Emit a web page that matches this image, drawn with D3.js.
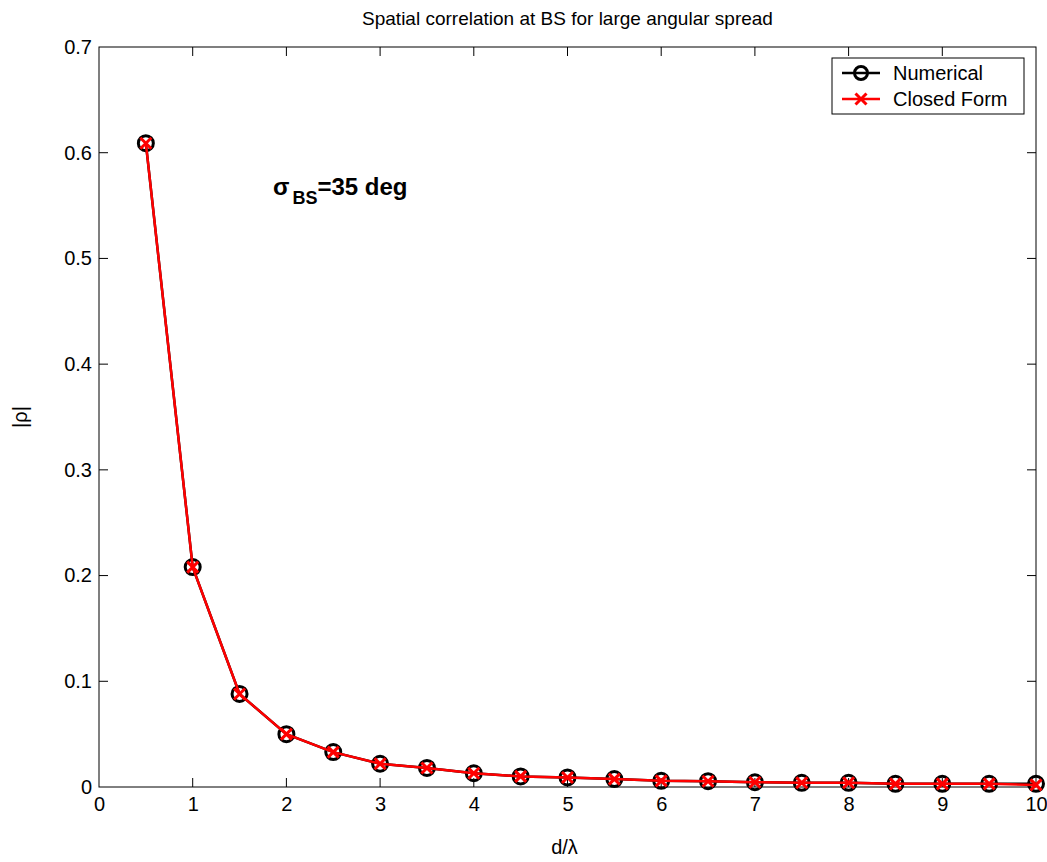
<!DOCTYPE html>
<html>
<head>
<meta charset="utf-8">
<script src="https://cdn.jsdelivr.net/npm/d3@7"></script>
<style>
  body { margin: 0; background: #fff; }
  text { font-family: "Liberation Sans", Arial, sans-serif; fill: #000; }
</style>
</head>
<body>
<div id="plot"></div>
<script>
// values
const dLambda = [0.5, 1, 1.5, 2, 2.5, 3, 3.5, 4, 4.5, 5, 5.5, 6, 6.5, 7, 7.5, 8, 8.5, 9, 9.5, 10];
const numerical = [0.609, 0.208, 0.088, 0.050, 0.033, 0.022, 0.018, 0.013, 0.010, 0.009,
                   0.0075, 0.0058, 0.0055, 0.0045, 0.004, 0.004, 0.003, 0.003, 0.003, 0.003];
const closedForm = [0.609, 0.208, 0.088, 0.050, 0.033, 0.022, 0.018, 0.013, 0.010, 0.009,
                    0.0075, 0.0058, 0.0055, 0.0045, 0.004, 0.004, 0.003, 0.003, 0.003, 0.002];
const xTicks = [0, 1, 2, 3, 4, 5, 6, 7, 8, 9, 10];
const yTicks = [0, 0.1, 0.2, 0.3, 0.4, 0.5, 0.6, 0.7];

const W = 1047, H = 862;
const m = {left: 99, right: 11, top: 47, bottom: 75};

const x = d3.scaleLinear().domain([0, 10]).range([m.left, W - m.right]);
const y = d3.scaleLinear().domain([0, 0.7]).range([H - m.bottom, m.top]);

const svg = d3.select("#plot").append("svg")
    .attr("width", W).attr("height", H);

// box
svg.append("rect")
    .attr("x", m.left).attr("y", m.top)
    .attr("width", x(10) - x(0)).attr("height", y(0) - y(0.7))
    .attr("fill", "none").attr("stroke", "#000").attr("stroke-width", 1);

const tickLen = 9;
const fontFam = "Liberation Sans, Arial, sans-serif";
// labels via d3 axes, ticks drawn inside the box below
const ax = d3.axisBottom(x).tickValues(xTicks).tickSize(0).tickPadding(10).tickFormat(d3.format("d"));
const gx = svg.append("g").attr("transform", `translate(0,${y(0)})`).call(ax);
gx.select(".domain").remove();
gx.selectAll("text").attr("font-size", 20).style("font-family", fontFam);

const ay = d3.axisLeft(y).tickValues(yTicks).tickSize(0).tickPadding(7).tickFormat(d => d === 0 ? "0" : d3.format(".1f")(d));
const gy = svg.append("g").attr("transform", `translate(${x(0)},0)`).call(ay);
gy.select(".domain").remove();
gy.selectAll("text").attr("font-size", 20).style("font-family", fontFam);

const ticks = svg.append("g").attr("stroke", "#000").attr("stroke-width", 1);
xTicks.slice(1, -1).forEach(t => {
  ticks.append("line").attr("x1", x(t)).attr("x2", x(t)).attr("y1", y(0)).attr("y2", y(0) - tickLen);
  ticks.append("line").attr("x1", x(t)).attr("x2", x(t)).attr("y1", y(0.7)).attr("y2", y(0.7) + tickLen);
});
yTicks.slice(1, -1).forEach(t => {
  ticks.append("line").attr("x1", x(0)).attr("x2", x(0) + tickLen).attr("y1", y(t)).attr("y2", y(t));
  ticks.append("line").attr("x1", x(10)).attr("x2", x(10) - tickLen).attr("y1", y(t)).attr("y2", y(t));
});

// title and labels
svg.append("text").attr("x", (x(0) + x(10)) / 2).attr("y", 25)
    .attr("text-anchor", "middle").attr("font-size", 19)
    .text("Spatial correlation at BS for large angular spread");
svg.append("text").attr("x", (x(0) + x(10)) / 2 - 3).attr("y", 854)
    .attr("text-anchor", "middle").attr("font-size", 20).text("d/λ");
svg.append("text").attr("transform", `translate(27,${(y(0) + y(0.7)) / 2}) rotate(-90)`)
    .attr("text-anchor", "middle").attr("font-size", 20).text("|ρ|");

// series
const line = d3.line().x((d, i) => x(dLambda[i])).y(d => y(d));
svg.append("path").datum(numerical).attr("d", line)
    .attr("fill", "none").attr("stroke", "#000").attr("stroke-width", 2.5);
svg.append("g").selectAll("circle").data(numerical).join("circle")
    .attr("cx", (d, i) => x(dLambda[i])).attr("cy", d => y(d)).attr("r", 7.5)
    .attr("fill", "none").attr("stroke", "#000").attr("stroke-width", 3);

svg.append("path").datum(closedForm).attr("d", line)
    .attr("fill", "none").attr("stroke", "#ff0000").attr("stroke-width", 2.5);
const xs = 5.5;
const crosses = svg.append("g").attr("stroke", "#ff0000").attr("stroke-width", 3);
closedForm.forEach((d, i) => {
  const cx = x(dLambda[i]), cy = y(d);
  crosses.append("path").attr("d", `M${cx - xs},${cy - xs}L${cx + xs},${cy + xs}M${cx - xs},${cy + xs}L${cx + xs},${cy - xs}`);
});

// annotation
const ann = svg.append("text").attr("x", 273).attr("y", 195)
    .attr("font-size", 24).attr("font-weight", "bold");
ann.append("tspan").text("σ");
ann.append("tspan").attr("font-size", 18).attr("dy", 9).attr("dx", 3).text("BS");
ann.append("tspan").attr("dy", -9).text("=35 deg");

// legend
const lg = svg.append("g");
lg.append("rect").attr("x", 832).attr("y", 58).attr("width", 192).attr("height", 56)
    .attr("fill", "#fff").attr("stroke", "#000").attr("stroke-width", 1);
const entries = [
  {label: "Numerical", color: "#000", marker: "o", yy: 73},
  {label: "Closed Form", color: "#ff0000", marker: "x", yy: 99}
];
entries.forEach(e => {
  lg.append("line").attr("x1", 842).attr("x2", 880).attr("y1", e.yy).attr("y2", e.yy)
      .attr("stroke", e.color).attr("stroke-width", 2.5);
  if (e.marker === "o") {
    lg.append("circle").attr("cx", 861).attr("cy", e.yy).attr("r", 6.5)
        .attr("fill", "none").attr("stroke", e.color).attr("stroke-width", 3);
  } else {
    lg.append("path").attr("d", `M${861 - xs},${e.yy - xs}L${861 + xs},${e.yy + xs}M${861 - xs},${e.yy + xs}L${861 + xs},${e.yy - xs}`)
        .attr("stroke", e.color).attr("stroke-width", 3);
  }
  lg.append("text").attr("x", 893).attr("y", e.yy + 7).attr("font-size", 20).text(e.label);
});
</script>
</body>
</html>
